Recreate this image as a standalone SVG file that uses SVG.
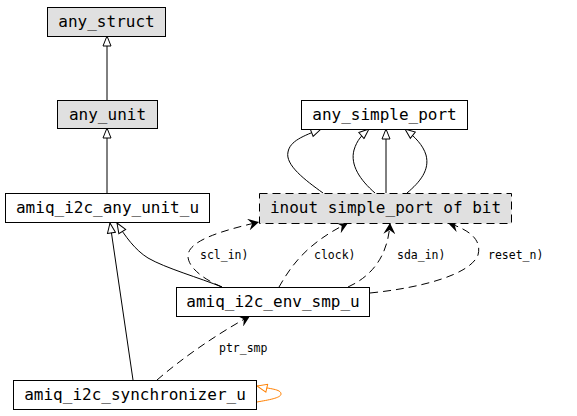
<svg xmlns="http://www.w3.org/2000/svg" width="577" height="416" viewBox="0 0 577 416">
<style>
  .box { fill: #ffffff; stroke: #000000; stroke-width: 1; }
  .gray { fill: #e0e0e0; }
  .dashed { stroke-dasharray: 8,5; }
  .lbl { font-family: "DejaVu Sans Mono", "Liberation Mono", monospace; font-size: 16px; text-anchor: middle; fill: #000; }
  .elbl { font-family: "DejaVu Sans Mono", "Liberation Mono", monospace; font-size: 11.5px; fill: #000; }
  .inh { fill: none; stroke: #000; stroke-width: 1; marker-end: url(#hollow); }
  .use { fill: none; stroke: #000; stroke-width: 1; stroke-dasharray: 8,5; marker-end: url(#filled); }
  .self { fill: none; stroke: #ff8000; stroke-width: 1; marker-end: url(#hollowOrange); }
</style>
<defs>
  <marker id="hollow" markerUnits="userSpaceOnUse" viewBox="0 0 12 10" refX="11" refY="5" markerWidth="12" markerHeight="10" orient="auto">
    <path d="M1,1 L11,5 L1,9 z" fill="#fff" stroke="#000" stroke-width="1"/>
  </marker>
  <marker id="hollowOrange" markerUnits="userSpaceOnUse" viewBox="0 0 12 10" refX="11" refY="5" markerWidth="12" markerHeight="10" orient="auto">
    <path d="M1,1 L11,5 L1,9 z" fill="#fff" stroke="#ff8000" stroke-width="1"/>
  </marker>
  <marker id="filled" markerUnits="userSpaceOnUse" viewBox="0 0 12 12" refX="11" refY="6" markerWidth="12" markerHeight="12" orient="auto">
    <path d="M0,0 L11,6 L0,12 L4,6 z" fill="#000" stroke="none"/>
  </marker>
</defs>
<rect width="577" height="416" fill="#ffffff"/>
<g id="edges">
  <path class="inh" d="M107,100 L107,36"/>
  <path class="inh" d="M107,193 L107,128"/>
  <path class="inh" d="M222,287 C200,278 165,268 148,258 C135,250 125,236 117,223"/>
  <path class="inh" d="M133,380 L110,223"/>
  <path class="inh" d="M323,193 C305,180 285,165 288,152 C290,141 303,136 321,129"/>
  <path class="inh" d="M375,193 C360,180 350,165 354,150 C357,140 362,135 369,129"/>
  <path class="inh" d="M386,193 L386,129"/>
  <path class="inh" d="M407,193 C420,182 430,170 426,155 C423,145 415,137 405,129"/>
  <path class="use" d="M222,287 C205,280 188,268 188,256 C188,240 225,230 259,222"/>
  <path class="use" d="M279,287 C290,268 305,244 348,223"/>
  <path class="use" d="M348,287 C370,277 388,258 390,223"/>
  <path class="use" d="M370,293 C420,288 470,275 478,255 C482,240 470,230 448,223"/>
  <path class="use" d="M157,380 C180,360 215,335 250,316"/>
  <path class="self" d="M257,402 C268,400 281,398 281,394 C281,389 270,389 257,386"/>
  <text class="elbl" x="200" y="259">scl_in)</text>
  <text class="elbl" x="314" y="259">clock)</text>
  <text class="elbl" x="397" y="259">sda_in)</text>
  <text class="elbl" x="488" y="259">reset_n)</text>
  <text class="elbl" x="219" y="352">ptr_smp</text>
</g>
<g id="any_struct">
  <rect class="box gray" x="47.5" y="7.5" width="118" height="29"/>
  <text class="lbl" x="106.5" y="27">any_struct</text>
</g>
<g id="any_unit">
  <rect class="box gray" x="57.5" y="100.5" width="100" height="28"/>
  <text class="lbl" x="107.5" y="120">any_unit</text>
</g>
<g id="amiq_i2c_any_unit_u">
  <rect class="box" x="5.5" y="193.5" width="204" height="29"/>
  <text class="lbl" x="107.5" y="213">amiq_i2c_any_unit_u</text>
</g>
<g id="any_simple_port">
  <rect class="box" x="301.5" y="100.5" width="166" height="29"/>
  <text class="lbl" x="384.5" y="120">any_simple_port</text>
</g>
<g id="inout_simple_port_of_bit">
  <rect class="box gray dashed" x="259.5" y="193.5" width="252" height="30"/>
  <text class="lbl" x="385.5" y="213">inout simple_port of bit</text>
</g>
<g id="amiq_i2c_env_smp_u">
  <rect class="box" x="176.5" y="287.5" width="193" height="29"/>
  <text class="lbl" x="273" y="307">amiq_i2c_env_smp_u</text>
</g>
<g id="amiq_i2c_synchronizer_u">
  <rect class="box" x="13.5" y="380.5" width="243" height="29"/>
  <text class="lbl" x="135" y="400">amiq_i2c_synchronizer_u</text>
</g>
</svg>
